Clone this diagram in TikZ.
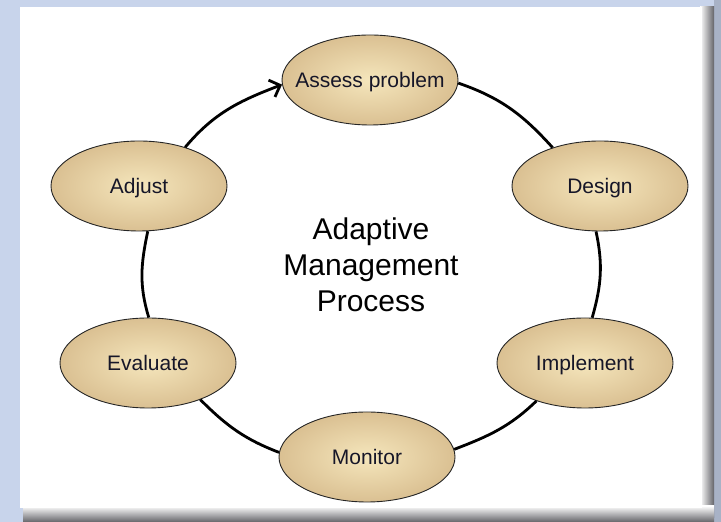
\documentclass[tikz,border=0pt]{standalone}
\usepackage{fontspec}
\setmainfont{Liberation Sans}
\usetikzlibrary{shapes.geometric,arrows.meta}
\definecolor{bgblue}{RGB}{200,212,235}
\definecolor{bgright}{RGB}{168,178,198}
\definecolor{shadowgray}{RGB}{100,100,105}
\definecolor{ellin}{RGB}{245,230,188}
\definecolor{ellout}{RGB}{218,192,146}
\definecolor{elltext}{RGB}{22,22,40}
\newcommand{\elltxt}[1]{\smash{\makebox[0pt]{\raisebox{-0.34em}{#1}}}}
\begin{document}
\begin{tikzpicture}[x=1pt,y=1pt,
  proc/.style={ellipse, draw=black!85, line width=0.9pt, inner sep=0pt,
    minimum width=176pt, minimum height=90pt, inner color=ellin, outer color=ellout,
    text=elltext, font=\fontsize{21}{25}\selectfont},
  ring/.style={line width=2.8pt, black},
]
\useasboundingbox (0,0) rectangle (721,522);
\fill[bgblue] (0,0) rectangle (721,522);
\fill[bgright] (714,0) rectangle (721,522);
\shade[left color=white, right color=shadowgray] (700,4) rectangle (714,515);
\shade[top color=white, bottom color=shadowgray] (23,0) rectangle (714,16);
\fill[white] (20,14) rectangle (702,515);

\node[proc] (assess) at (370,442) {\elltxt{Assess problem}};
\node[proc] (design) at (600,336) {\elltxt{Design}};
\node[proc] (implement) at (585,159) {\elltxt{Implement}};
\node[proc] (monitor) at (367,65) {\elltxt{Monitor}};
\node[proc] (evaluate) at (148,159) {\elltxt{Evaluate}};
\node[proc] (adjust) at (139,336) {\elltxt{Adjust}};

\node[anchor=base, inner sep=0pt, font=\fontsize{30}{36}\selectfont] (title) at (371,282)
  {\begin{tabular}[t]{@{}c@{}}Adaptive\\Management\\Process\end{tabular}};

\draw[ring] (assess.-2) to[out=-19, in=132] (design.141);
\draw[ring] (design.-95) to[out=-78, in=74] (implement.81);
\draw[ring] (implement.218) to[out=-136, in=21] (monitor.5);
\draw[ring] (monitor.177) to[out=159, in=-45] (evaluate.-35);
\draw[ring] (evaluate.89) to[out=107, in=-102] (adjust.-79);
\draw[ring, -{Straight Barb[length=9pt,width=18pt]}] (adjust.40) to[out=50, in=201] (assess.183);
\end{tikzpicture}
\end{document}
